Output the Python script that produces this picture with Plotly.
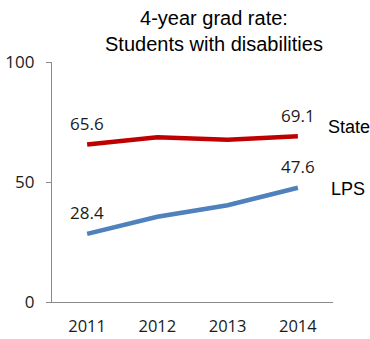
import plotly.graph_objects as go

years = ["2011", "2012", "2013", "2014"]
state = [65.6, 68.6, 67.6, 69.1]
lps = [28.4, 35.5, 40.3, 47.6]
y_ticks = [0, 50, 100]

TEXT_FONT = "Liberation Sans, Arial, sans-serif"
NUM_FONT = "Open Sans, Liberation Sans, sans-serif"
NUM_COLOR = "#1b1b1b"
AXIS_COLOR = "#8a8a8a"

fig = go.Figure()


def add_series(name, values, color, name_dx, name_dy):
    fig.add_trace(go.Scatter(
        x=years, y=values, mode="lines", name=name,
        line=dict(color=color, width=4.5),
        cliponaxis=False, showlegend=False, hoverinfo="x+y",
    ))
    last = len(values) - 1
    # value labels above the first and last points
    for i in (0, last):
        fig.add_annotation(
            x=i, y=values[i], text=f"{values[i]:.1f}", showarrow=False,
            xanchor="center", yanchor="middle", yshift=21,
            font=dict(family=NUM_FONT, size=17, color=NUM_COLOR),
        )
    # series name to the right of the last point
    fig.add_annotation(
        x=last, y=values[last], text=name, showarrow=False,
        xanchor="left", yanchor="middle", xshift=name_dx, yshift=name_dy,
        font=dict(family=TEXT_FONT, size=18, color="#000000"),
    )


add_series("State", state, "#C00000", 28, 9)
add_series("LPS", lps, "#4F81BD", 31, -1)

# two-line chart title above the plot area
fig.add_annotation(
    xref="paper", yref="paper", x=0.577, y=1.02,
    xanchor="center", yanchor="bottom", showarrow=False,
    text="4-year grad rate:<br>Students with disabilities",
    font=dict(family=TEXT_FONT, size=20, color="#000000"),
)

fig.update_layout(
    width=370, height=339,
    margin=dict(l=52, r=37, t=62, b=37),
    paper_bgcolor="white", plot_bgcolor="white",
    xaxis=dict(
        type="category", range=[-0.5, 3.5], automargin=False,
        showgrid=False, showline=True, linecolor=AXIS_COLOR, linewidth=1.3,
        ticks="", ticklabelstandoff=9,
        tickfont=dict(family=NUM_FONT, size=16.5, color=NUM_COLOR),
    ),
    yaxis=dict(
        range=[0, 100], tickvals=y_ticks, automargin=False,
        showgrid=False, zeroline=False, showline=True,
        linecolor=AXIS_COLOR, linewidth=1.3,
        ticks="outside", ticklen=5, tickcolor=AXIS_COLOR, tickwidth=1.3,
        ticklabelstandoff=8,
        tickfont=dict(family=NUM_FONT, size=17, color=NUM_COLOR),
    ),
)

fig.write_html("out.html")
